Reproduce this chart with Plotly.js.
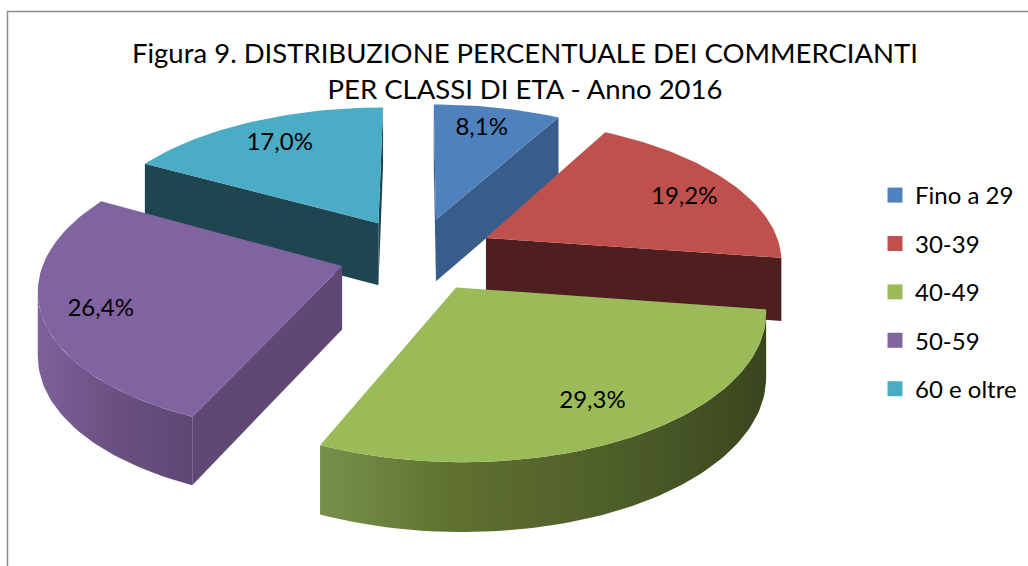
<!DOCTYPE html>
<html><head><meta charset="utf-8">
<script src="https://cdn.plot.ly/plotly-3.0.1.min.js"></script>
<style>html,body{margin:0;padding:0;background:#fff}#c{width:1028px;height:566px}</style>
</head><body><div id="c"></div>
<script>
const categories = ['Fino a 29','30-39','40-49','50-59','60 e oltre'];
const shares = [8.1,19.2,29.3,26.4,17.0];
const shareLabels = ['8,1%','19,2%','29,3%','26,4%','17,0%'];
const topColors = ['#4f81bd','#c0504d','#9bbb59','#8064a2','#4bacc6'];
const wallColors = ['#385d8a','#4f1f1f','#5f7030','#5f4874','#1f4550'];
const arcGradients = [
  [[0,'#385d8a'],[1,'#2f4f75']],
  [[0,'#4f1f1f'],[1,'#4f1f1f']],
  [[0,'#76924a'],[0.3,'#5f7030'],[0.7,'#4c5c28'],[1,'#39461e']],
  [[0,'#7d6199'],[0.5,'#6a5082'],[1,'#5d4873']],
  [[0,'#1f4550'],[1,'#1f4550']]
];
const drawOrder = [0,4,1,3,2];
const labelFractions = [0.72,0.81,0.8,0.81,0.76];
const labelDrops = [-7,6,-2,5,0];

// projection of the exploded, tilted pie
const cx=417, cy=254, R=296, tilt=140, persp=0.14, explode=0.264, depthBase=63, depthSlope=33;
function project(X,V){const s=1/(1-persp*V);return {x:cx+X*R*s,y:cy+tilt*V*s,s};}
function rim(theta,e,bis,f){
  const X=e*Math.sin(bis)+f*Math.sin(theta), V=-e*Math.cos(bis)-f*Math.cos(theta);
  return project(X,V);
}
const total=shares.reduce((a,b)=>a+b,0);
let acc=0;
const slices=shares.map(v=>{const a=acc/total*2*Math.PI;acc+=v;return {a0:a,a1:acc/total*2*Math.PI};});

function face(pts,color,grad){
  const t={type:'scatter',mode:'lines',x:pts.map(p=>p.x),y:pts.map(p=>p.y),fill:'toself',
    line:{width:0,color:color},fillcolor:color,hoverinfo:'skip',showlegend:false};
  if(grad) t.fillgradient={type:'horizontal',colorscale:grad};
  return t;
}
function wall(list,color,grad){
  const down=list.map(p=>({x:p.x,y:p.y+depthBase+depthSlope*(p.s-1)}));
  return face(list.concat(down.reverse(),[list[0]]),color,grad);
}
const traces=[];
drawOrder.forEach(i=>{
  const {a0,a1}=slices[i], bis=(a0+a1)/2;
  const apex=rim(0,explode,bis,0), arc=[];
  const n=Math.max(8,Math.round((a1-a0)*40));
  for(let k=0;k<=n;k++) arc.push(rim(a0+(a1-a0)*k/n,explode,bis,1));
  if(arc[0].x<apex.x) traces.push(wall([apex,arc[0]],wallColors[i]));
  if(apex.x<arc[n].x) traces.push(wall([arc[n],apex],wallColors[i]));
  const front=arc.filter((p,k)=>(k<n&&arc[k+1].x<p.x)||(k>0&&p.x<arc[k-1].x));
  if(front.length>1) traces.push(wall(front,wallColors[i],arcGradients[i]));
  traces.push(face([apex].concat(arc,[apex]),topColors[i]));
});
// percentage labels
const lab=slices.map(({a0,a1},i)=>{const b=(a0+a1)/2;return rim(b,explode,b,labelFractions[i]);});
traces.push({type:'scatter',mode:'text',x:lab.map(p=>p.x),y:lab.map((p,i)=>p.y+labelDrops[i]),text:shareLabels,
  textposition:'middle center',textfont:{family:'Lato, Carlito, sans-serif',size:24,color:'#000'},
  hoverinfo:'skip',showlegend:false});
// legend entries
categories.forEach((c,i)=>traces.push({type:'scatter',mode:'markers',x:[null],y:[null],name:c,legendgroup:c,
  marker:{symbol:'square',size:15,color:topColors[i]}}));

const layout={
  width:1028,height:566,margin:{l:0,r:0,t:0,b:0},paper_bgcolor:'#fff',plot_bgcolor:'#fff',
  xaxis:{range:[0,1028],visible:false,fixedrange:true},
  yaxis:{range:[566,0],visible:false,fixedrange:true},
  title:{text:'Figura 9. DISTRIBUZIONE PERCENTUALE DEI COMMERCIANTI<br>PER CLASSI DI ETA - Anno 2016',
    x:525/1028,xanchor:'center',y:0.888,yanchor:'bottom',yref:'container',
    font:{family:'Lato, Carlito, sans-serif',size:27.5,color:'#000'}},
  legend:{x:875/1028,xanchor:'left',y:1-173/566,yanchor:'top',tracegroupgap:14.2,
    font:{family:'Lato, Carlito, sans-serif',size:24,color:'#000'},bgcolor:'rgba(0,0,0,0)',itemclick:false,itemdoubleclick:false},
  shapes:[{type:'rect',xref:'x',yref:'y',x0:7.5,y0:11.5,x1:1100,y1:640,line:{color:'#8c8c8c',width:1.5},layer:'below'}]
};
Plotly.newPlot('c',traces,layout,{displayModeBar:false,staticPlot:true});
</script></body></html>
